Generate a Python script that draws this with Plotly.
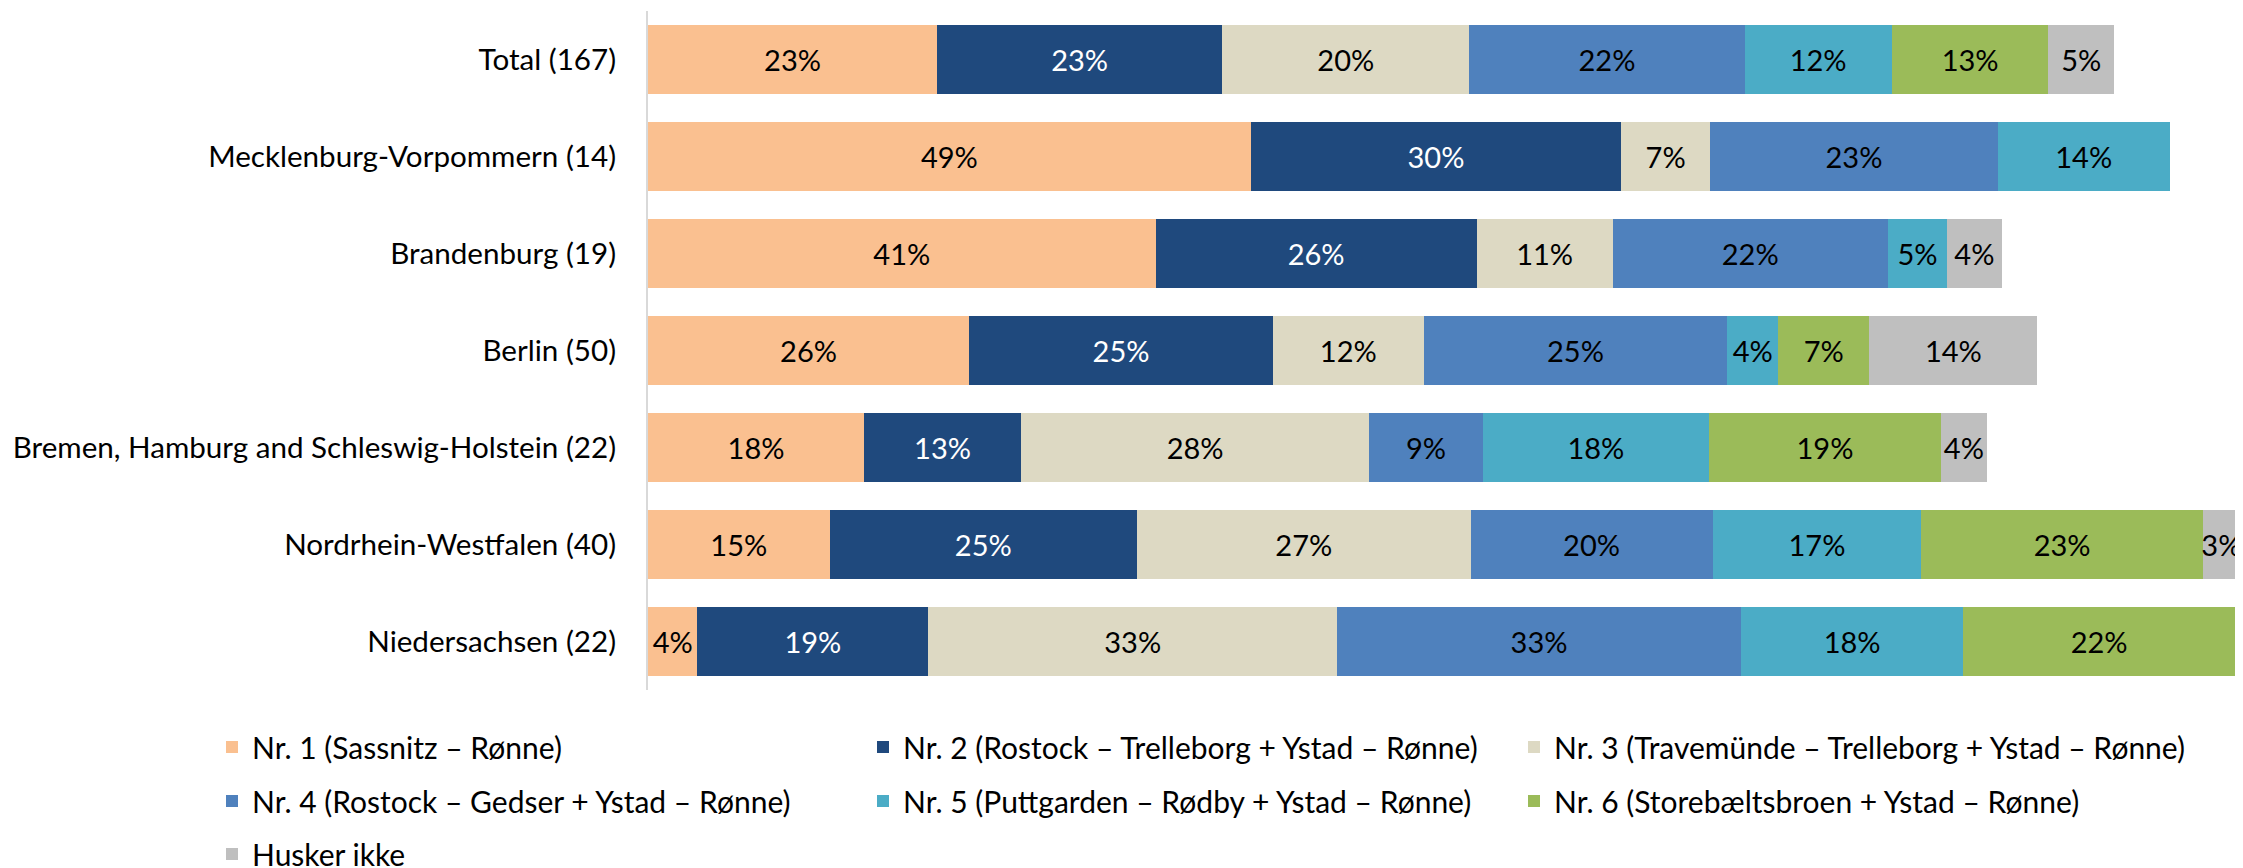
import plotly.graph_objects as go

regions = ['Total (167)', 'Mecklenburg-Vorpommern (14)', 'Brandenburg (19)', 'Berlin (50)',
           'Bremen, Hamburg and Schleswig-Holstein (22)', 'Nordrhein-Westfalen (40)',
           'Niedersachsen (22)']

nr1 = [23.4, 48.8, 41.1, 26.0, 17.5, 14.7, 4.0]
nr2 = [23.1, 30.0, 26.0, 24.6, 12.7, 24.9, 18.7]
nr3 = [20.0, 7.2, 11.0, 12.2, 28.2, 27.0, 33.1]
nr4 = [22.3, 23.3, 22.3, 24.6, 9.2, 19.6, 32.7]
nr5 = [11.9, 13.9, 4.8, 4.1, 18.3, 16.9, 18.0]
nr6 = [12.7, None, None, 7.4, 18.8, 22.8, 22.0]
husker = [5.3, None, 4.4, 13.6, 3.7, 3.0, None]

names = ['Nr. 1 (Sassnitz – Rønne)',
         'Nr. 2 (Rostock – Trelleborg + Ystad – Rønne)',
         'Nr. 3 (Travemünde – Trelleborg + Ystad – Rønne)',
         'Nr. 4 (Rostock – Gedser + Ystad – Rønne)',
         'Nr. 5 (Puttgarden – Rødby + Ystad – Rønne)',
         'Nr. 6 (Storebæltsbroen + Ystad – Rønne)',
         'Husker ikke']
series = [nr1, nr2, nr3, nr4, nr5, nr6, husker]
colors = ['#FAC090', '#1F497D', '#DDD9C3', '#4F81BD', '#4BACC6', '#9BBB59', '#BFBFBF']
text_colors = ['black', 'white', 'black', 'black', 'black', 'black', 'black']
legends = ['legend', 'legend', 'legend4', 'legend2', 'legend2', 'legend2', 'legend3']

FONT = 'Lato'
W, H = 2243, 868
OFF = 8  # page body margin shifts the figure by 8px

fig = go.Figure()
for name, vals, col, tcol, lg in zip(names, series, colors, text_colors, legends):
    fig.add_trace(go.Bar(
        y=regions, x=vals, name=name, orientation='h',
        marker=dict(color=col, line=dict(width=0)),
        texttemplate='%{x:.0f}%', textposition='inside',
        insidetextanchor='middle', textangle=0, constraintext='none',
        textfont=dict(color=tcol, size=29, family=FONT),
        legend=lg, hoverinfo='skip'
    ))

# plot area in page pixels: x 648..2243, y 11..690
L, R, T, B = 648 - OFF, 2243 - OFF, 11 - OFF, 690 - OFF

def px_x(p):
    return (p - OFF - L) / (R - L)

def px_y(p):
    return (B - (p - OFF)) / (B - T)

ENTRY = 606
COL = ENTRY + 45
leg = dict(orientation='h', xanchor='left', yanchor='middle', x=px_x(212),
           entrywidth=ENTRY, font=dict(family=FONT, size=30, color='black'),
           bgcolor='rgba(0,0,0,0)', traceorder='normal')

fig.update_layout(
    barmode='stack',
    bargap=0.28,
    width=W, height=H,
    margin=dict(l=L, r=W - R, t=T, b=H - B, autoexpand=False),
    plot_bgcolor='white', paper_bgcolor='white',
    font=dict(family=FONT, size=30, color='black'),
    xaxis=dict(range=[0, 129.15], visible=False, showgrid=False, zeroline=False),
    yaxis=dict(autorange='reversed', showgrid=False, zeroline=False, automargin=False,
               showline=True, linecolor='#D9D9D9', linewidth=2,
               ticks='', ticklabelstandoff=24,
               tickfont=dict(family=FONT, size=29.6, color='black')),
    legend=dict(leg, y=px_y(747)),
    legend4=dict(leg, y=px_y(747), x=px_x(212 + 2 * COL), entrywidth=0),
    legend2=dict(leg, y=px_y(801)),
    legend3=dict(leg, y=px_y(854)),
    uniformtext=dict(mode=False),
)

fig.write_html('out.html')
